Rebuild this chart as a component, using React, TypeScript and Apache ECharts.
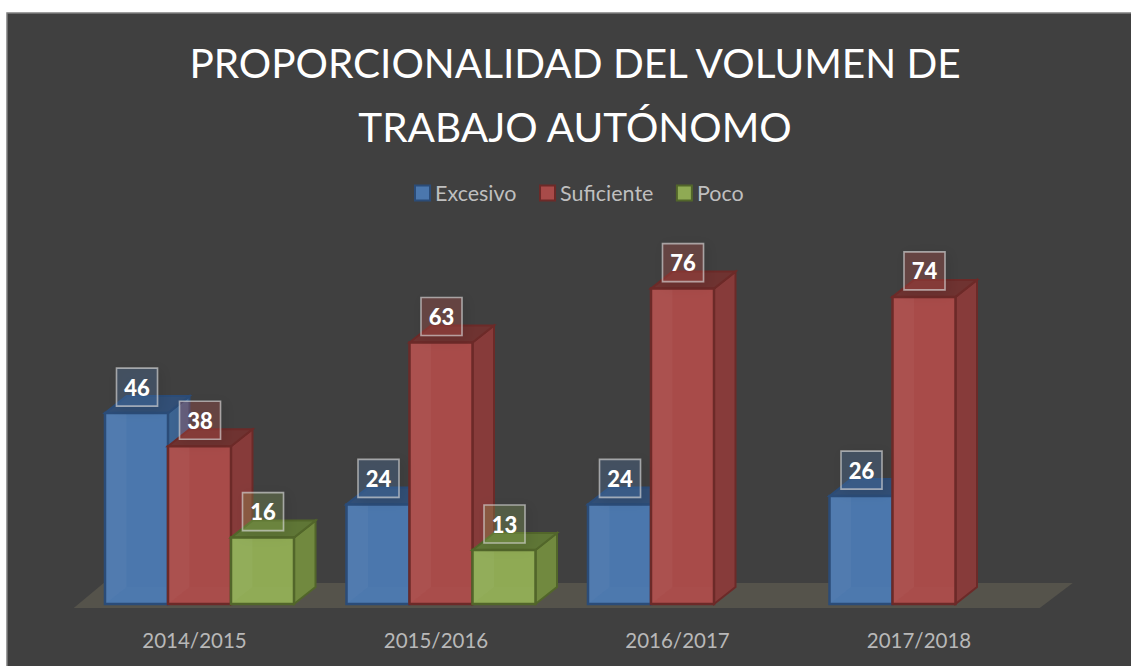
import React, { useEffect, useRef } from "react";
import * as echarts from "echarts";

const titleLines = ["PROPORCIONALIDAD DEL VOLUMEN DE", "TRABAJO AUTÓNOMO"];
const categories = ["2014/2015", "2015/2016", "2016/2017", "2017/2018"];
const excesivo = [46, 24, 24, 26];
const suficiente = [38, 63, 76, 74];
const poco: (number | null)[] = [16, 13, null, null];

const FONT = "Lato";
const BAR_W = 63;
const DX = 21.5;
const DY = -17;
const START = -89.5;

const palettes = [
  { front: "#4B77AD", side: "#3D6492", top: "#324F76", edge: "#2B4C78", box: "rgba(79,129,189,0.25)" },
  { front: "#A84B49", side: "#873B3A", top: "#6F3331", edge: "#6C2A28", box: "rgba(192,80,77,0.28)" },
  { front: "#8FAA54", side: "#71893F", top: "#5F7636", edge: "#52662A", box: "rgba(155,187,89,0.22)" },
];

const poly = (points: number[][], fill: string, stroke: string, lineWidth = 2) => ({
  type: "polygon",
  shape: { points },
  style: { fill, stroke, lineWidth, lineJoin: "miter" },
  silent: true,
});

function barRenderer(s: number) {
  return (_p: any, api: any) => {
    const v = api.value(1);
    if (v == null || isNaN(v)) return null;
    const c = api.value(0);
    const base = api.coord([c, 0]);
    const top = api.coord([c, v]);
    const x0 = base[0] + START + s * BAR_W;
    const x1 = x0 + BAR_W;
    const yb = base[1];
    const yt = top[1];
    const p = palettes[s];
    const none = "rgba(0,0,0,0)";
    return {
      type: "group",
      children: [
        poly([[x1, yt], [x1 + DX, yt + DY], [x1 + DX, yb + DY], [x1, yb]], p.side, p.edge),
        poly([[x0, yt], [x0 + DX, yt + DY], [x1 + DX, yt + DY], [x1, yt]], p.top, p.edge),
        poly([[x0, yt], [x1, yt], [x1, yb], [x0, yb]], p.front, none, 0),
        // inner walls seen faintly through the front face
        poly([[x0, yt], [x0 + DX, yt], [x0 + DX, yb + DY], [x0, yb]], "rgba(255,255,255,0.035)", none, 0),
        poly([[x0, yb], [x0 + DX, yb + DY], [x1, yb + DY], [x1, yb]], "rgba(255,255,255,0.015)", none, 0),
        poly([[x0, yt], [x1, yt], [x1, yb], [x0, yb]], "rgba(0,0,0,0)", p.edge, 2.5),
      ],
    };
  };
}

function labelRenderer(s: number) {
  return (_p: any, api: any) => {
    const v = api.value(1);
    if (v == null || isNaN(v)) return null;
    const c = api.value(0);
    const base = api.coord([c, 0]);
    const top = api.coord([c, v]);
    const cx = base[0] + START + s * BAR_W + BAR_W / 2 + 0.5;
    const cy = top[1] - 26;
    return {
      type: "group",
      children: [
        {
          type: "rect",
          shape: { x: cx - 20.5, y: cy - 19, width: 41, height: 38 },
          style: {
            fill: palettes[s].box,
            stroke: "rgba(215,215,215,0.65)",
            lineWidth: 1.6,
            shadowBlur: 12,
            shadowColor: "rgba(0,0,0,0.25)",
            shadowOffsetX: 3,
            shadowOffsetY: 3,
          },
          silent: true,
        },
        {
          type: "text",
          x: cx,
          y: cy,
          style: {
            text: String(v),
            fill: "#FFFFFF",
            font: `900 22px ${FONT}`,
            textAlign: "center",
            textVerticalAlign: "middle",
          },
          silent: true,
        },
      ],
    };
  };
}

function floorRenderer(p: any) {
  const g = p.coordSys;
  const yb = g.y + g.height;
  return {
    type: "polygon",
    shape: {
      points: [
        [g.x, yb + 4],
        [g.x + g.width, yb + 4],
        [g.x + g.width + 33, yb - 21],
        [g.x + 30, yb - 21],
      ],
    },
    style: { fill: "#55534B" },
    silent: true,
  };
}

const seriesData = [
  { name: "Excesivo", values: excesivo },
  { name: "Suficiente", values: suficiente },
  { name: "Poco", values: poco },
];

export default function App() {
  const ref = useRef<HTMLDivElement>(null);
  useEffect(() => {
    if (!ref.current) return;
    const chart = echarts.init(ref.current, null, { renderer: "svg" });
    chart.setOption({
      animation: false,
      backgroundColor: "#FFFFFF",
      graphic: [
        {
          type: "rect",
          z: 0,
          silent: true,
          shape: { x: 7, y: 13, width: 1140, height: 670 },
          style: { fill: "#404040", stroke: "#7F7F7F", lineWidth: 1.5 },
        },
      ],
      title: {
        text: titleLines.join("\n"),
        left: 570,
        top: 25,
        textAlign: "center",
        textStyle: { color: "#FFFFFF", fontFamily: FONT, fontWeight: 400, fontSize: 40.5, lineHeight: 64 },
      },
      legend: {
        left: 414,
        top: 182,
        padding: 0,
        icon: "rect",
        itemWidth: 15,
        itemHeight: 15,
        itemGap: 22.5,
        textStyle: { color: "#BFBFBF", fontFamily: FONT, fontSize: 21.5 },
        data: seriesData.map((d, i) => ({
          name: d.name,
          itemStyle: { color: palettes[i].front, borderColor: palettes[i].edge, borderWidth: 2 },
        })),
      },
      grid: { left: 73.75, width: 966, top: 189, height: 415 },
      xAxis: {
        type: "category",
        data: categories,
        axisLine: { show: false },
        axisTick: { show: false },
        axisLabel: { color: "#B8B8B8", fontFamily: FONT, fontSize: 20.5, margin: 25 },
      },
      yAxis: { type: "value", min: 0, max: 100, show: false },
      series: [
        { type: "custom", name: "floor", z: 1, coordinateSystem: "cartesian2d", renderItem: floorRenderer, data: [[0, 0]], encode: { x: 0, y: 1 } },
        ...seriesData.map((d, s) => ({
          type: "custom",
          name: d.name,
          z: 2 + s,
          coordinateSystem: "cartesian2d",
          renderItem: barRenderer(s),
          itemStyle: { color: palettes[s].front },
          data: d.values.map((v, i) => [i, v]),
          encode: { x: 0, y: 1 },
        })),
        ...seriesData.map((d, s) => ({
          type: "custom",
          name: d.name + " etiquetas",
          z: 6,
          coordinateSystem: "cartesian2d",
          renderItem: labelRenderer(s),
          data: d.values.map((v, i) => [i, v]),
          encode: { x: 0, y: 1 },
        })),
      ],
    });
    return () => chart.dispose();
  }, []);
  return <div ref={ref} style={{ position: "fixed", left: 0, top: 0, width: 1131, height: 666 }} />;
}
